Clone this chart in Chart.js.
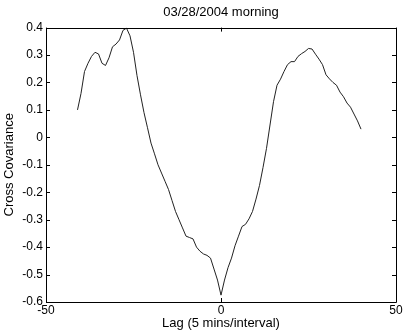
<!DOCTYPE html>
<html>
<head>
<meta charset="utf-8">
<script src="https://cdn.jsdelivr.net/npm/chart.js@4.4.1/dist/chart.umd.min.js"></script>
<style>
html,body{margin:0;padding:0;background:#fff;}
#wrap{width:404px;height:332px;}
</style>
</head>
<body>
<div id="wrap"><canvas id="c" width="404" height="332"></canvas></div>
<script>
const titleText = "03/28/2004 morning";
const xLabel = "Lag (5 mins/interval)";
const yLabel = "Cross Covariance";
const lags = [-41,-40,-39,-38,-37,-36,-35,-34,-33,-32,-31,-30,-29,-28,-27,-26,-25,-24,-23,-22,-21,-20,-19,-18,-17,-16,-15,-14,-13,-12,-11,-10,-9,-8,-7,-6,-5,-4,-3,-2,-1,0,1,2,3,4,5,6,7,8,9,10,11,12,13,14,15,16,17,18,19,20,21,22,23,24,25,26,27,28,29,30,31,32,33,34,35,36,37,38,39,40];
const covariance = [0.10,0.16,0.24,0.27,0.295,0.31,0.304,0.27,0.262,0.29,0.33,0.34,0.355,0.39,0.398,0.37,0.31,0.225,0.155,0.09,0.035,-0.021,-0.06,-0.10,-0.13,-0.16,-0.19,-0.23,-0.27,-0.30,-0.33,-0.36,-0.365,-0.37,-0.40,-0.415,-0.425,-0.43,-0.44,-0.48,-0.52,-0.575,-0.52,-0.475,-0.44,-0.395,-0.36,-0.325,-0.317,-0.297,-0.27,-0.225,-0.175,-0.11,-0.04,0.045,0.13,0.19,0.212,0.24,0.265,0.276,0.276,0.295,0.305,0.313,0.324,0.322,0.303,0.285,0.265,0.228,0.213,0.20,0.19,0.165,0.148,0.125,0.11,0.085,0.06,0.03];
const xTicks = [-50,0,50];
const yTicks = [-0.6,-0.5,-0.4,-0.3,-0.2,-0.1,0,0.1,0.2,0.3,0.4];

const FONT = "'Liberation Sans', Arial, Helvetica, sans-serif";

const boxTicks = {
  id: 'boxTicks',
  afterDraw(chart) {
    const {ctx, chartArea: a, scales: {x, y}} = chart;
    ctx.save();
    ctx.strokeStyle = '#000';
    ctx.lineWidth = 1;
    ctx.beginPath();
    ctx.rect(Math.round(a.left) + 0.5, Math.round(a.top) + 0.5, Math.round(a.right - a.left), Math.round(a.bottom - a.top));
    ctx.stroke();
    const L = 4;
    ctx.beginPath();
    xTicks.forEach(v => {
      const px = Math.round(x.getPixelForValue(v)) + 0.5;
      ctx.moveTo(px, a.bottom); ctx.lineTo(px, a.bottom - L);
      ctx.moveTo(px, a.top); ctx.lineTo(px, a.top + L);
    });
    yTicks.forEach(v => {
      const py = Math.round(y.getPixelForValue(v)) + 0.5;
      ctx.moveTo(a.left, py); ctx.lineTo(a.left + L, py);
      ctx.moveTo(a.right, py); ctx.lineTo(a.right - L, py);
    });
    ctx.stroke();
    ctx.restore();
  }
};

new Chart(document.getElementById('c'), {
  type: 'line',
  data: {
    datasets: [{
      data: lags.map((l, i) => ({x: l, y: covariance[i]})),
      borderColor: '#222',
      borderWidth: 1,
      pointRadius: 0,
      tension: 0,
      fill: false
    }]
  },
  options: {
    responsive: false,
    animation: false,
    devicePixelRatio: 1,
    layout: {padding: {left: 0, right: 8, top: 0, bottom: 0}},
    plugins: {
      legend: {display: false},
      tooltip: {enabled: false},
      title: {
        display: true,
        fullSize: false,
        text: titleText,
        color: '#000',
        font: {family: FONT, size: 13, weight: 'normal'},
        padding: {top: 5, bottom: 7}
      }
    },
    scales: {
      x: {
        type: 'linear',
        min: -50, max: 50,
        afterBuildTicks: s => { s.ticks = xTicks.map(v => ({value: v})); },
        afterFit: s => { s.height = 30; },
        ticks: {color: '#000', font: {family: FONT, size: 12}, padding: 1, maxRotation: 0},
        grid: {display: false, drawTicks: false},
        border: {display: false},
        title: {display: true, text: xLabel, color: '#000', font: {family: FONT, size: 13}, padding: {top: 0, bottom: 1}}
      },
      y: {
        type: 'linear',
        min: -0.6, max: 0.4,
        afterBuildTicks: s => { s.ticks = yTicks.map(v => ({value: v})); },
        afterFit: s => { s.width = 46; },
        ticks: {color: '#000', font: {family: FONT, size: 12}, padding: 3,
          callback: v => { const r = Math.round(v * 10) / 10; return r === 0 ? '0' : String(r); }},
        grid: {display: false, drawTicks: false},
        border: {display: false},
        title: {display: true, text: yLabel, color: '#000', font: {family: FONT, size: 13}, padding: {top: 2, bottom: 0}}
      }
    }
  },
  plugins: [boxTicks]
});
</script>
</body>
</html>
